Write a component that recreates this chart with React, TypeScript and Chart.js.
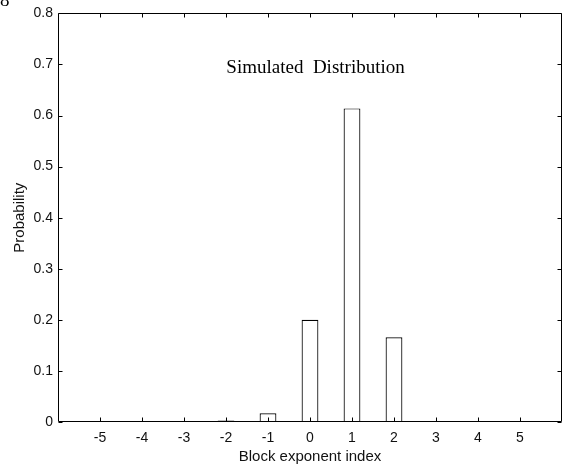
import React, { useEffect, useRef } from 'react';
import { Chart, registerables } from 'chart.js';

Chart.register(...registerables);

const categories = [-5, -4, -3, -2, -1, 0, 1, 2, 3, 4, 5];
const probabilities = [0, 0, 0, 0.003, 0.017, 0.2, 0.614, 0.166, 0, 0, 0];
const yTickValues = [0, 0.1, 0.2, 0.3, 0.4, 0.5, 0.6, 0.7, 0.8];
const titleText = 'Simulated  Distribution';
const xLabel = 'Block exponent index';
const yLabel = 'Probability';
const cornerLabel = '8';

const sansFont = '"Liberation Sans", Arial, Helvetica, sans-serif';
const serifFont = '"Liberation Serif", "Times New Roman", serif';

const framePlugin = {
  id: 'frame',
  afterDatasetsDraw(chart: any) {
    const { ctx, chartArea, scales } = chart;
    const { left, right, top, bottom } = chartArea;
    const x = scales.x;
    const y = scales.y;
    ctx.save();
    ctx.lineWidth = 1;
    ctx.strokeStyle = '#000';
    const L = Math.round(left) + 0.5;
    const R = Math.round(right) - 0.5;
    const T = Math.round(top) + 0.5;
    const B = Math.round(bottom) - 0.5;
    ctx.beginPath();
    ctx.moveTo(L, T);
    ctx.lineTo(R, T);
    ctx.lineTo(R, B);
    ctx.lineTo(L, B);
    ctx.closePath();
    ctx.stroke();
    const tl = 4;
    ctx.beginPath();
    categories.forEach((v) => {
      const px = Math.round(x.getPixelForValue(v)) + 0.5;
      ctx.moveTo(px, B);
      ctx.lineTo(px, B - tl);
      ctx.moveTo(px, T);
      ctx.lineTo(px, T + tl);
    });
    yTickValues.forEach((v) => {
      const py = Math.round(y.getPixelForValue(v)) + 0.5;
      ctx.moveTo(L, py);
      ctx.lineTo(L + tl, py);
      ctx.moveTo(R, py);
      ctx.lineTo(R - tl, py);
    });
    ctx.stroke();
    ctx.fillStyle = '#000';
    ctx.font = `19px ${serifFont}`;
    ctx.textAlign = 'center';
    ctx.textBaseline = 'alphabetic';
    ctx.fillText(titleText, left + (right - left) * 0.511, top + 60);
    ctx.textAlign = 'left';
    ctx.fillText(cornerLabel, 0, 6);
    ctx.restore();
  },
};

export default function App() {
  const canvasRef = useRef<HTMLCanvasElement | null>(null);

  useEffect(() => {
    const canvas = canvasRef.current;
    if (!canvas) return;
    const chart = new Chart(canvas, {
      type: 'bar',
      data: {
        datasets: [
          {
            data: categories.map((c, i) => ({ x: c, y: probabilities[i] })),
            backgroundColor: '#ffffff',
            borderColor: '#000000',
            borderWidth: 1.2,
            barPercentage: 0.4,
            categoryPercentage: 1,
          },
        ],
      },
      options: {
        responsive: false,
        animation: false,
        devicePixelRatio: 1,
        layout: { padding: { top: 12, right: 3, left: 0, bottom: 0 } },
        plugins: {
          legend: { display: false },
          tooltip: { enabled: false },
        },
        scales: {
          x: {
            type: 'linear',
            min: -6,
            max: 6,
            offset: false,
            grid: { display: false, drawTicks: false },
            border: { display: false },
            afterBuildTicks: (s: any) => {
              s.ticks = categories.map((v) => ({ value: v }));
            },
            afterFit: (s: any) => {
              s.height = 45;
            },
            ticks: {
              autoSkip: false,
              maxRotation: 0,
              padding: 8,
              color: '#111',
              font: { family: sansFont, size: 14 },
              callback: (v: any) => String(v),
            },
            title: {
              display: true,
              text: xLabel,
              color: '#111',
              font: { family: sansFont, size: 15 },
              padding: { top: 1, bottom: 1 },
            },
          },
          y: {
            type: 'linear',
            min: 0,
            max: 0.8,
            grid: { display: false, drawTicks: false },
            border: { display: false },
            afterBuildTicks: (s: any) => {
              s.ticks = yTickValues.map((v) => ({ value: v }));
            },
            afterFit: (s: any) => {
              s.width = 58;
            },
            ticks: {
              padding: 5,
              color: '#111',
              font: { family: sansFont, size: 14 },
              callback: (v: any) => (v === 0 ? '0' : Number(v).toFixed(1)),
            },
            title: {
              display: true,
              text: yLabel,
              color: '#111',
              font: { family: sansFont, size: 15 },
              padding: { top: 11, bottom: 0 },
            },
          },
        },
      },
      plugins: [framePlugin],
    });
    return () => chart.destroy();
  }, []);

  return (
    <div style={{ position: 'absolute', left: 0, top: 0, width: 565, height: 467, background: '#fff' }}>
      <canvas ref={canvasRef} width={565} height={467} />
    </div>
  );
}
